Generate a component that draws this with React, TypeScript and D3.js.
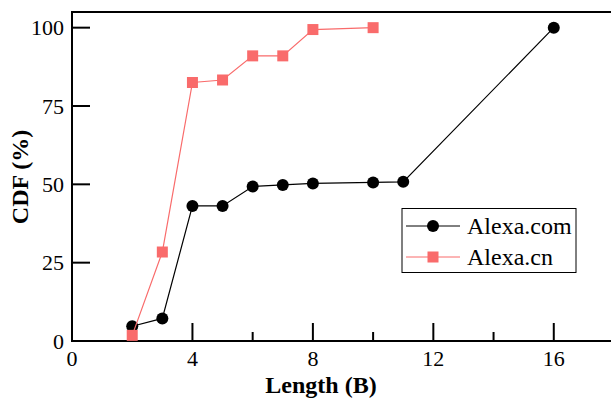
import React, { useEffect, useRef } from 'react';
import * as d3 from 'd3';

// lengths in bytes
const comLengths = [2, 3, 4, 5, 6, 7, 8, 10, 11, 16];
const comCdf = [4.7, 7.2, 43.1, 43.1, 49.3, 49.8, 50.3, 50.6, 50.8, 100];

const cnLengths = [2, 3, 4, 5, 6, 7, 8, 10];
const cnCdf = [1.8, 28.4, 82.5, 83.3, 91, 91, 99.4, 100];

const xMajorTicks = [0, 4, 8, 12, 16];
const xMinorTicks = [2, 6, 10, 14];
const yTicks = [0, 25, 50, 75, 100];

const seriesNames = ['Alexa.com', 'Alexa.cn'];

const FONT = 'Liberation Serif';
const RED = '#f96b6b';

function CdfChart() {
    const ref = useRef<SVGSVGElement>(null);

    useEffect(() => {
        var width = 611, height = 399;
        var margin = { left: 72, top: 12, right: -3, bottom: 58 };

        var svg = d3.select(ref.current);
        svg.selectAll('*').remove();

        var x = d3.scaleLinear().domain([0, 18]).range([margin.left, width - margin.right]);
        var y = d3.scaleLinear().domain([0, 105]).range([height - margin.bottom, margin.top]);

        var x0 = x(0), y0 = y(0);

        // frame: left, bottom, top
        svg.append('line').attr('x1', x0).attr('x2', x0).attr('y1', y0 + 1).attr('y2', y(105) - 1)
            .attr('stroke', '#000').attr('stroke-width', 2);
        svg.append('line').attr('x1', x0 - 1).attr('x2', width).attr('y1', y0).attr('y2', y0)
            .attr('stroke', '#000').attr('stroke-width', 2);
        svg.append('line').attr('x1', x0 - 1).attr('x2', width).attr('y1', y(105)).attr('y2', y(105))
            .attr('stroke', '#000').attr('stroke-width', 2);

        // x ticks (inward)
        svg.selectAll('.xmajor').data(xMajorTicks).enter().append('line')
            .attr('x1', function(d) { return x(d); }).attr('x2', function(d) { return x(d); })
            .attr('y1', y0).attr('y2', y0 - 18)
            .attr('stroke', '#000').attr('stroke-width', 2);
        svg.selectAll('.xminor').data(xMinorTicks).enter().append('line')
            .attr('x1', function(d) { return x(d); }).attr('x2', function(d) { return x(d); })
            .attr('y1', y0).attr('y2', y0 - 9)
            .attr('stroke', '#000').attr('stroke-width', 2);
        svg.selectAll('.xlabel').data(xMajorTicks).enter().append('text')
            .attr('x', function(d) { return x(d); }).attr('y', y0 + 25)
            .attr('text-anchor', 'middle')
            .attr('font-family', FONT).attr('font-size', 22)
            .text(function(d) { return d; });

        // y ticks (inward)
        svg.selectAll('.ytick').data(yTicks).enter().append('line')
            .attr('x1', x0).attr('x2', x0 + 18)
            .attr('y1', function(d) { return y(d); }).attr('y2', function(d) { return y(d); })
            .attr('stroke', '#000').attr('stroke-width', 2);
        svg.selectAll('.ylabel').data(yTicks).enter().append('text')
            .attr('x', x0 - 8).attr('y', function(d) { return y(d); })
            .attr('dy', '0.35em')
            .attr('text-anchor', 'end')
            .attr('font-family', FONT).attr('font-size', 22)
            .text(function(d) { return d; });

        // axis titles
        svg.append('text')
            .attr('x', 321).attr('y', 393)
            .attr('text-anchor', 'middle')
            .attr('font-family', FONT).attr('font-size', 24).attr('font-weight', 'bold')
            .text('Length (B)');
        svg.append('text')
            .attr('transform', 'translate(28,177) rotate(-90)')
            .attr('text-anchor', 'middle')
            .attr('font-family', FONT).attr('font-size', 24).attr('font-weight', 'bold')
            .text('CDF (%)');

        var cnPts = cnLengths.map(function(l, i) { return [l, cnCdf[i]] as [number, number]; });
        var comPts = comLengths.map(function(l, i) { return [l, comCdf[i]] as [number, number]; });
        var pathGen = d3.line<[number, number]>()
            .x(function(d) { return x(d[0]); })
            .y(function(d) { return y(d[1]); });

        // Alexa.com
        svg.append('path').attr('d', pathGen(comPts)).attr('fill', 'none')
            .attr('stroke', '#000').attr('stroke-width', 1.2);
        svg.selectAll('.com').data(comPts).enter().append('circle')
            .attr('cx', function(d) { return x(d[0]); }).attr('cy', function(d) { return y(d[1]); })
            .attr('r', 6).attr('fill', '#000');

        // Alexa.cn
        svg.append('path').attr('d', pathGen(cnPts)).attr('fill', 'none')
            .attr('stroke', RED).attr('stroke-width', 1.2);
        svg.selectAll('.cn').data(cnPts).enter().append('rect')
            .attr('x', function(d) { return x(d[0]) - 5.5; }).attr('y', function(d) { return y(d[1]) - 5.5; })
            .attr('width', 11).attr('height', 11).attr('fill', RED);

        // legend
        var lg = svg.append('g');
        lg.append('rect').attr('x', 402).attr('y', 208.5).attr('width', 174).attr('height', 64)
            .attr('fill', '#fff').attr('stroke', '#000').attr('stroke-width', 1);
        seriesNames.forEach(function(name, i) {
            var cy = 226 + i * 31;
            var col = i === 0 ? '#000' : RED;
            lg.append('line').attr('x1', 406).attr('x2', 460).attr('y1', cy).attr('y2', cy)
                .attr('stroke', col).attr('stroke-width', 1);
            if (i === 0) {
                lg.append('circle').attr('cx', 433).attr('cy', cy).attr('r', 6).attr('fill', col);
            } else {
                lg.append('rect').attr('x', 427.5).attr('y', cy - 5.5).attr('width', 11).attr('height', 11).attr('fill', col);
            }
            lg.append('text').attr('x', 467).attr('y', cy).attr('dy', '0.35em')
                .attr('font-family', FONT).attr('font-size', 24)
                .text(name);
        });
    }, []);

    return (
        <svg ref={ref} width={611} height={399}
            style={{ position: 'absolute', left: 0, top: 0, background: '#fff' }} />
    );
}

export default function App() {
    return <CdfChart />;
}
